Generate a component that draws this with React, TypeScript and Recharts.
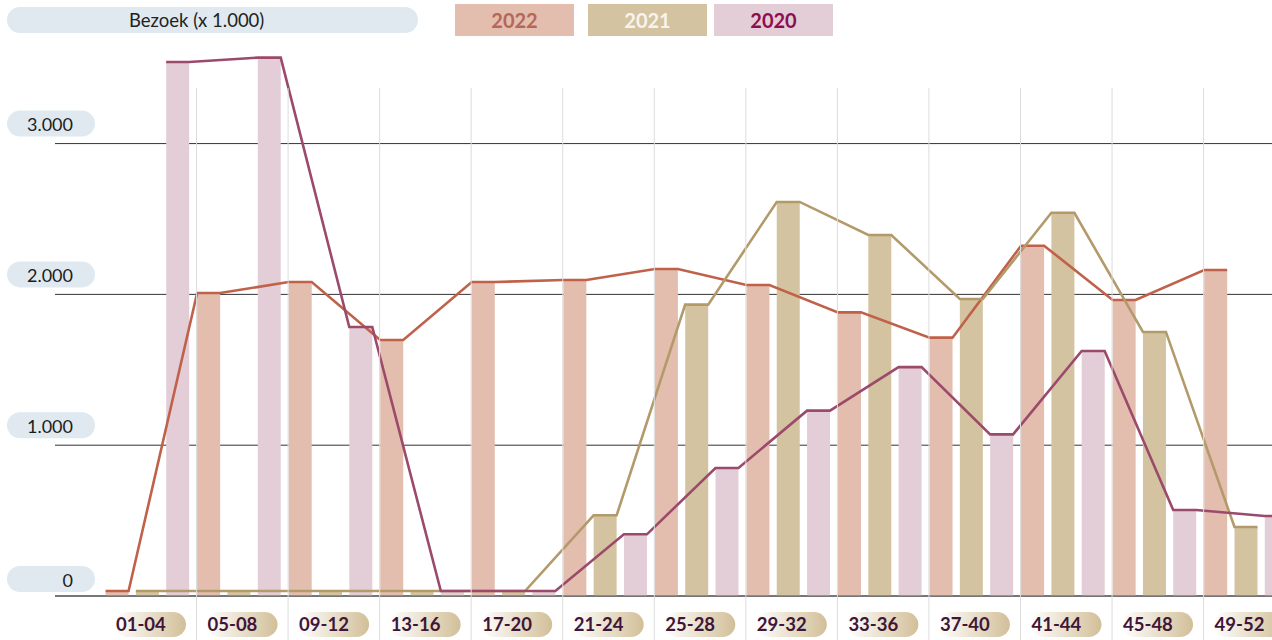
import { Bar, CartesianGrid, ComposedChart, Line, XAxis, YAxis } from "recharts";

const WEEKS = [
  "01-04", "05-08", "09-12", "13-16", "17-20", "21-24", "25-28",
  "29-32", "33-36", "37-40", "41-44", "45-48", "49-52",
];
const VISITS_2022 = [33, 2009, 2082, 1698, 2082, 2095, 2168, 2062, 1881, 1713, 2323, 1963, 2162];
const VISITS_2021 = [33, 33, 33, 33, 33, 535, 1932, 2613, 2394, 1969, 2541, 1751, 458];
const VISITS_2020 = [3541, 3570, 1784, 33, 33, 409, 849, 1229, 1518, 1072, 1625, 570, 530];
const Y_TICKS = [0, 1000, 2000, 3000];

const SERIES = [
  { key: "v2022", name: "2022", bar: "#e3bdae", line: "#c0614a", text: "#b5675a", box: 455 },
  { key: "v2021", name: "2021", bar: "#d4c3a0", line: "#b39a6a", text: "#f8f4ec", box: 588 },
  { key: "v2020", name: "2020", bar: "#e3cdd6", line: "#9b4a6b", text: "#8c0f4f", box: 714 },
];

const data = WEEKS.map((week, i) => ({
  week,
  v2022: VISITS_2022[i],
  v2021: VISITS_2021[i],
  v2020: VISITS_2020[i],
}));

const CHART_W = 1300;
const CHART_H = 640;
const BAR_SIZE = 23;
const BAR_GAP = 7.3;
const FONT = "Lato, 'Noto Sans', sans-serif";

const fmt = (v: number) => v.toString().replace(/\B(?=(\d{3})+(?!\d))/g, ".");

// line that runs along the top edge of each bar, then on to the next one
function barTopCurve(shift: number) {
  const half = BAR_SIZE / 2;
  return (context: any) => {
    let first = true;
    return {
      areaStart() {},
      areaEnd() {},
      lineStart() {
        first = true;
      },
      lineEnd() {},
      point(x: number, y: number) {
        const a = x + shift - half;
        const b = x + shift + half;
        if (first) {
          context.moveTo(a, y);
          first = false;
        } else {
          context.lineTo(a, y);
        }
        context.lineTo(b, y);
      },
    };
  };
}

function YTick({ y, payload }: any) {
  const top = y - (payload.value === 0 ? 30 : 33);
  return (
    <g>
      <rect x={7} y={top} width={88} height={26} rx={13} fill="#dfe9ef" />
      <text x={73} y={top + 20.5} textAnchor="end" fontFamily={FONT} fontSize={18} fill="#1d1d1d">
        {fmt(payload.value)}
      </text>
    </g>
  );
}

function WeekTick({ x, payload, index }: any) {
  const half = payload?.offset ?? 45.78;
  const idx = index ?? payload?.index ?? 0;
  const gx = x - half + 3.4;
  return (
    <g>
      {idx > 0 && <line x1={gx} x2={gx} y1={88} y2={640} stroke="#dcdcdc" strokeWidth={1} />}
      <rect x={x - 32.4} y={612} width={71} height={25} rx={12.5} fill="url(#pillGrad)" />
      <text x={x - 31.4} y={631} fontFamily={FONT} fontSize={18.5} fontWeight={700} fill="#3f1538">
        {payload.value}
      </text>
    </g>
  );
}

export default function App() {
  return (
    <div
      style={{
        position: "fixed",
        left: 0,
        top: 0,
        width: 1272,
        height: 640,
        overflow: "hidden",
        background: "#fff",
        fontFamily: FONT,
      }}
    >
      <div
        style={{
          position: "absolute",
          left: 7,
          top: 7,
          width: 411,
          height: 26,
          borderRadius: 13,
          background: "#dfe9ef",
          color: "#222",
          fontSize: 18.5,
          lineHeight: "26px",
          paddingLeft: 122,
          boxSizing: "border-box",
          zIndex: 2,
        }}
      >
        Bezoek (x 1.000)
      </div>
      {SERIES.map((s) => (
        <div
          key={s.key}
          style={{
            position: "absolute",
            left: s.box,
            top: 4,
            width: 119,
            height: 32,
            background: s.bar,
            color: s.text,
            fontSize: 20,
            fontWeight: 700,
            lineHeight: "32px",
            textAlign: "center",
            zIndex: 2,
          }}
        >
          {s.name}
        </div>
      ))}
      <div style={{ position: "absolute", left: 0, top: 0 }}>
        <ComposedChart
          width={CHART_W}
          height={CHART_H}
          data={data}
          margin={{ top: 53.1, right: 8.25, bottom: 0, left: 0 }}
          barGap={BAR_GAP}
          barSize={BAR_SIZE}
        >
          <defs>
            <linearGradient id="pillGrad" x1="0" y1="0" x2="1" y2="0">
              <stop offset="0%" stopColor="#ffffff" />
              <stop offset="100%" stopColor="#d2bf98" />
            </linearGradient>
          </defs>
          <CartesianGrid
            vertical={false}
            horizontalValues={Y_TICKS}
            stroke="#333"
            strokeWidth={1}
          />
          <XAxis
            dataKey="week"
            height={44}
            padding={{ left: 46.6, right: 0 }}
            interval={0}
            tickLine={false}
            axisLine={{ stroke: "#555", strokeWidth: 1 }}
            tick={<WeekTick />}
          />
          <YAxis
            width={55}
            domain={[0, 3600]}
            ticks={Y_TICKS}
            axisLine={false}
            tickLine={false}
            tick={<YTick />}
          />
          {SERIES.map((s) => (
            <Bar key={s.key} dataKey={s.key} fill={s.bar} isAnimationActive={false} />
          ))}
          {SERIES.map((s, i) => (
            <Line
              key={"l" + s.key}
              dataKey={s.key}
              type={barTopCurve((i - 1) * (BAR_SIZE + BAR_GAP)) as any}
              stroke={s.line}
              strokeWidth={2.6}
              dot={false}
              activeDot={false}
              legendType="none"
              isAnimationActive={false}
            />
          ))}
        </ComposedChart>
      </div>
    </div>
  );
}
